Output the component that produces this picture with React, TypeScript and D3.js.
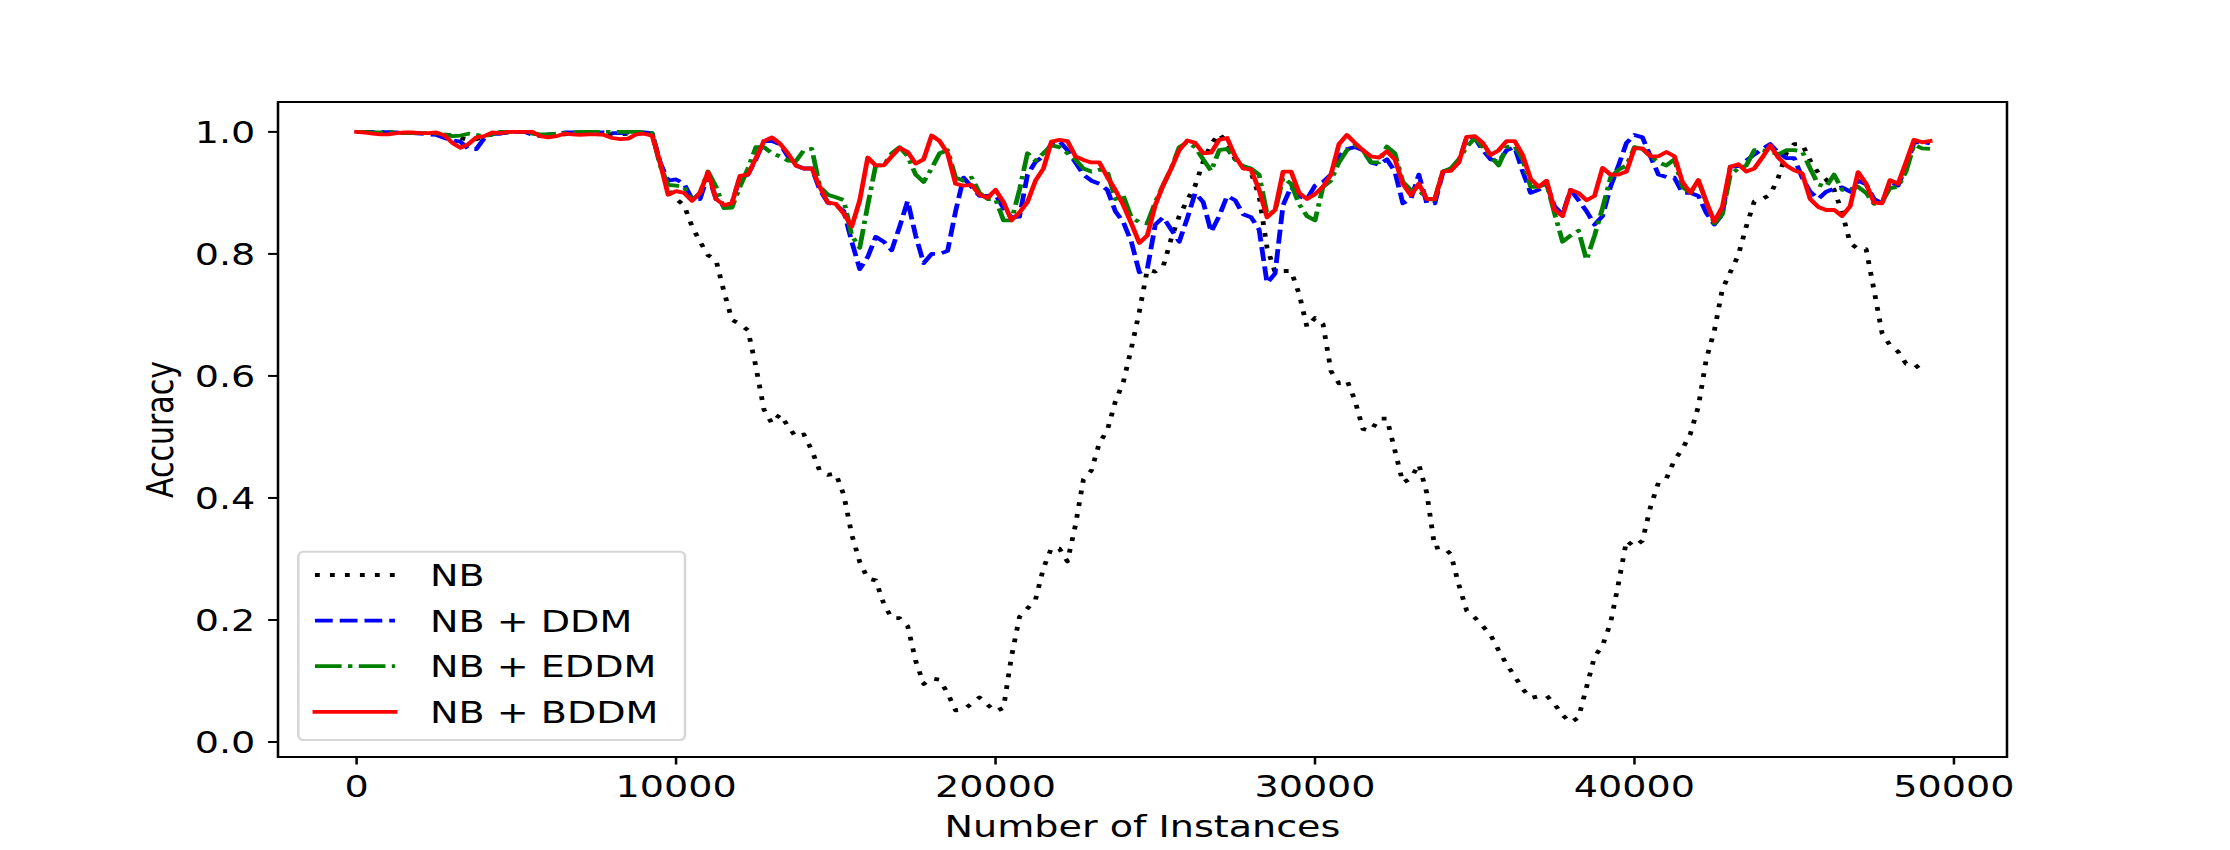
import React from 'react';
import * as d3 from 'd3';

const instances = [
  0, 250, 500, 750, 1000, 1250, 1500, 1750, 2000, 2250, 2500, 2750, 3000, 3250, 3500, 3750, 4000, 4250, 4500, 4750,
  5000, 5250, 5500, 5750, 6000, 6250, 6500, 6750, 7000, 7250, 7500, 7750, 8000, 8250, 8500, 8750, 9000, 9250, 9500, 9750,
  10000, 10250, 10500, 10750, 11000, 11250, 11500, 11750, 12000, 12250, 12500, 12750, 13000, 13250, 13500, 13750, 14000, 14250, 14500, 14750,
  15000, 15250, 15500, 15750, 16000, 16250, 16500, 16750, 17000, 17250, 17500, 17750, 18000, 18250, 18500, 18750, 19000, 19250, 19500, 19750,
  20000, 20250, 20500, 20750, 21000, 21250, 21500, 21750, 22000, 22250, 22500, 22750, 23000, 23250, 23500, 23750, 24000, 24250, 24500, 24750,
  25000, 25250, 25500, 25750, 26000, 26250, 26500, 26750, 27000, 27250, 27500, 27750, 28000, 28250, 28500, 28750, 29000, 29250, 29500, 29750,
  30000, 30250, 30500, 30750, 31000, 31250, 31500, 31750, 32000, 32250, 32500, 32750, 33000, 33250, 33500, 33750, 34000, 34250, 34500, 34750,
  35000, 35250, 35500, 35750, 36000, 36250, 36500, 36750, 37000, 37250, 37500, 37750, 38000, 38250, 38500, 38750, 39000, 39250, 39500, 39750,
  40000, 40250, 40500, 40750, 41000, 41250, 41500, 41750, 42000, 42250, 42500, 42750, 43000, 43250, 43500, 43750, 44000, 44250, 44500, 44750,
  45000, 45250, 45500, 45750, 46000, 46250, 46500, 46750, 47000, 47250, 47500, 47750, 48000, 48250, 48500, 48750, 49000, 49250,
];

const accNB = [
  1.0, 1.0, 0.999, 0.998, 0.999, 0.999, 0.998, 0.998, 0.998, 0.997, 0.997, 0.996, 0.994, 0.99, 0.987, 0.988, 0.993, 0.996, 0.998, 0.999,
  1.0, 1.0, 0.998, 0.995, 0.993, 0.994, 0.996, 0.997, 0.998, 0.998, 0.998, 0.997, 0.996, 0.996, 0.997, 0.998, 0.999, 0.997,
  0.95, 0.905, 0.89, 0.88, 0.845, 0.82, 0.798, 0.79, 0.738, 0.692,
  0.685, 0.675, 0.615, 0.545, 0.522, 0.537, 0.518, 0.5, 0.504, 0.478,
  0.444, 0.438, 0.44, 0.405, 0.34, 0.295, 0.268, 0.265, 0.227, 0.203,
  0.203, 0.19, 0.133, 0.095, 0.104, 0.102, 0.08, 0.052, 0.053, 0.063,
  0.073, 0.061, 0.05, 0.056, 0.14, 0.205, 0.219, 0.233, 0.285, 0.318,
  0.317, 0.296, 0.355, 0.43, 0.445, 0.49, 0.511, 0.558, 0.59, 0.645,
  0.705, 0.774, 0.771, 0.78, 0.825, 0.862, 0.888, 0.912, 0.951, 0.98,
  0.997, 0.983, 0.955, 0.942, 0.933, 0.895, 0.81, 0.77, 0.772, 0.772,
  0.735, 0.68, 0.695, 0.685, 0.608, 0.588, 0.593, 0.56, 0.513, 0.51,
  0.53, 0.53, 0.478, 0.425, 0.432, 0.455, 0.408, 0.318, 0.32, 0.308,
  0.258, 0.215, 0.204, 0.19, 0.175, 0.15, 0.127, 0.108, 0.087, 0.072,
  0.075, 0.076, 0.062, 0.044, 0.032, 0.04, 0.09, 0.14, 0.158, 0.195,
  0.26, 0.33, 0.32, 0.33, 0.385, 0.425, 0.432, 0.462, 0.48, 0.505,
  0.55, 0.628, 0.674, 0.742, 0.77, 0.798, 0.845, 0.886, 0.89, 0.897,
  0.925, 0.965, 0.98, 0.98, 0.953, 0.933, 0.922, 0.905, 0.868, 0.818,
  0.808, 0.808, 0.74, 0.67, 0.65, 0.64, 0.62, 0.62, 0.608,
];

const accDDM = [
  1.0, 1.0, 1.0, 1.0, 0.999, 0.999, 0.998, 0.998, 0.997, 0.996,
  0.995, 0.99, 0.986, 0.984, 0.972, 0.972, 0.99, 0.997, 0.997, 1.0,
  1.0, 1.0, 0.995, 0.993, 0.996, 0.997, 0.999, 0.999, 0.999, 0.999,
  0.999, 0.999, 0.998, 0.998, 0.999, 0.999, 0.999, 0.998,
  0.95, 0.92, 0.922, 0.915, 0.89, 0.89, 0.93, 0.89, 0.878, 0.883,
  0.925, 0.93, 0.955, 0.985, 0.985, 0.98, 0.96, 0.945, 0.94, 0.94,
  0.905, 0.884, 0.88, 0.87, 0.82, 0.775, 0.795, 0.828, 0.82, 0.806,
  0.845, 0.887, 0.83, 0.785, 0.8, 0.8, 0.805, 0.87, 0.925, 0.91,
  0.895, 0.895, 0.897, 0.875, 0.86, 0.861, 0.93, 0.951, 0.96, 0.981,
  0.985, 0.97, 0.95, 0.93, 0.92, 0.915, 0.905, 0.87, 0.852, 0.82,
  0.77, 0.775, 0.848, 0.86, 0.84, 0.82, 0.858, 0.9, 0.885, 0.836,
  0.862, 0.895, 0.888, 0.865, 0.86, 0.84, 0.752, 0.768, 0.88, 0.91,
  0.895, 0.89, 0.912, 0.918, 0.93, 0.96, 0.972, 0.975, 0.97, 0.95,
  0.946, 0.955, 0.935, 0.883, 0.89, 0.93, 0.883, 0.883, 0.933, 0.94,
  0.95, 0.992, 0.99, 0.97, 0.955, 0.951, 0.97, 0.975, 0.935, 0.9,
  0.905, 0.914, 0.878, 0.865, 0.905, 0.888, 0.87, 0.848, 0.862, 0.91,
  0.945, 0.982, 0.995, 0.991, 0.96, 0.93, 0.926, 0.925, 0.9, 0.9,
  0.895, 0.867, 0.848, 0.865, 0.943, 0.944, 0.953, 0.963, 0.972, 0.98,
  0.966, 0.957, 0.957, 0.925, 0.902, 0.89, 0.902, 0.907, 0.909, 0.902,
  0.92, 0.914, 0.89, 0.883, 0.918, 0.912, 0.943, 0.982, 0.984, 0.981,
];

const accEDDM = [
  1.0, 1.0, 0.999, 0.999, 1.0, 0.999, 0.998, 0.998, 0.998, 0.998,
  0.997, 0.996, 0.993, 0.994, 0.997, 0.995, 0.993, 0.996, 1.0, 1.0,
  1.0, 1.0, 0.997, 0.996, 0.996, 0.997, 0.998, 0.999, 1.0, 1.0,
  1.0, 1.0, 1.0, 1.0, 1.0, 1.0, 0.999, 0.998,
  0.945, 0.913, 0.912, 0.91, 0.888, 0.9, 0.935, 0.91, 0.875, 0.876,
  0.91, 0.94, 0.975, 0.975, 0.965, 0.96, 0.953, 0.952, 0.97, 0.972,
  0.91, 0.897, 0.893, 0.888, 0.83, 0.81, 0.88, 0.945, 0.945, 0.965,
  0.975, 0.96, 0.93, 0.918, 0.94, 0.965, 0.97, 0.925, 0.92, 0.925,
  0.9, 0.89, 0.89, 0.855, 0.855, 0.905, 0.965, 0.953, 0.965, 0.978,
  0.975, 0.965, 0.955, 0.94, 0.935, 0.938, 0.935, 0.89, 0.895, 0.86,
  0.852, 0.85, 0.885, 0.913, 0.94, 0.975, 0.983, 0.975, 0.955, 0.936,
  0.97, 0.972, 0.955, 0.944, 0.94, 0.93, 0.865, 0.87, 0.925, 0.915,
  0.882, 0.862, 0.855, 0.91, 0.92, 0.95, 0.97, 0.978, 0.97, 0.95,
  0.95, 0.976, 0.965, 0.918, 0.905, 0.905, 0.89, 0.889, 0.935, 0.94,
  0.955, 0.975, 0.99, 0.975, 0.96, 0.945, 0.975, 0.977, 0.955, 0.91,
  0.91, 0.915, 0.866, 0.82, 0.83, 0.838, 0.79, 0.83, 0.875, 0.925,
  0.938, 0.945, 0.975, 0.972, 0.96, 0.95, 0.945, 0.955, 0.91, 0.9,
  0.92, 0.885, 0.85, 0.865, 0.93, 0.94, 0.945, 0.97, 0.97, 0.968,
  0.963, 0.97, 0.97, 0.968, 0.94, 0.914, 0.91, 0.93, 0.905, 0.905,
  0.91, 0.9, 0.882, 0.885, 0.908, 0.91, 0.935, 0.979, 0.973, 0.972,
];

const accBDDM = [
  1.0, 0.999, 0.997, 0.996, 0.996, 0.998, 0.999, 0.999, 0.998, 0.998,
  0.999, 0.994, 0.982, 0.974, 0.98, 0.991, 0.993, 0.999, 0.998, 1.0,
  1.0, 1.0, 1.0, 0.993, 0.991, 0.993, 0.997, 0.996, 0.995, 0.996,
  0.996, 0.995, 0.99, 0.988, 0.989, 0.996, 0.997, 0.994,
  0.95, 0.897, 0.903, 0.9, 0.887, 0.9, 0.934, 0.89, 0.88, 0.883,
  0.928, 0.93, 0.957, 0.985, 0.991, 0.981, 0.965, 0.945, 0.94, 0.94,
  0.91, 0.884, 0.882, 0.866, 0.845, 0.888, 0.958, 0.945, 0.945, 0.96,
  0.974, 0.967, 0.948, 0.955, 0.994, 0.985, 0.965, 0.915, 0.912, 0.913,
  0.897, 0.892, 0.905, 0.885, 0.855, 0.868, 0.885, 0.92, 0.94, 0.984,
  0.987, 0.985, 0.96, 0.954, 0.95, 0.95, 0.926, 0.905, 0.88, 0.85,
  0.818, 0.83, 0.88, 0.913, 0.94, 0.97, 0.986, 0.982, 0.965, 0.966,
  0.987, 0.99, 0.96, 0.94, 0.938, 0.905, 0.86, 0.872, 0.935, 0.935,
  0.9, 0.89, 0.898, 0.91, 0.93, 0.98, 0.995, 0.982, 0.97, 0.96,
  0.958, 0.968, 0.955, 0.915, 0.896, 0.915, 0.89, 0.89, 0.935, 0.936,
  0.95, 0.992, 0.993, 0.982, 0.962, 0.97, 0.985, 0.985, 0.962, 0.923,
  0.91, 0.92, 0.872, 0.862, 0.905, 0.9, 0.888, 0.895, 0.941, 0.93,
  0.93, 0.935, 0.973, 0.973, 0.96, 0.96, 0.967, 0.96, 0.918, 0.9,
  0.921, 0.885, 0.853, 0.877, 0.943, 0.947, 0.935, 0.94, 0.958, 0.978,
  0.958, 0.945, 0.937, 0.932, 0.89, 0.877, 0.872, 0.872, 0.862, 0.878,
  0.934, 0.915, 0.884, 0.883, 0.921, 0.915, 0.95, 0.987, 0.983, 0.985,
];

const xTicks = [0, 10000, 20000, 30000, 40000, 50000];
const yTicks = [0.0, 0.2, 0.4, 0.6, 0.8, 1.0];
const seriesNames = ['NB', 'NB + DDM', 'NB + EDDM', 'NB + BDDM'];
const seriesColors = ['#000000', '#0000ff', '#008000', '#ff0000'];
const xLabel = 'Number of Instances';
const yLabel = 'Accuracy';

export default function App() {
  const W = 2230;
  const H = 850;
  const S = 1.27; // horizontal stretch of the original raster
  const IW = W / S;
  const L = 218.9, R = 1580.3, T = 102, B = 757;
  const font = "'DejaVu Sans', 'Liberation Sans', sans-serif";
  const fs = 30;
  const lw = 3.8;

  const x = d3.scaleLinear().domain([-2460, 51660]).range([L, R]);
  const y = d3.scaleLinear().domain([-0.0246, 1.049]).range([B, T]);

  const dashes = ['3.8,8', '14,5.5', '21,5,3.5,5', ''];
  const seriesValues = [accNB, accDDM, accEDDM, accBDDM];

  const gen = d3
    .line<[number, number]>()
    .x((d) => x(d[0]))
    .y((d) => y(d[1]));

  const paths = seriesValues.map((vals) => {
    const n = Math.min(instances.length, vals.length);
    const pts: [number, number][] = [];
    for (let i = 0; i < n; i++) pts.push([instances[i], vals[i]]);
    return gen(pts) || '';
  });

  const legL = 234.9, legR = 539.4, legT = 551.7, legB = 740;
  const rowY = (k: number) => 575 + 45.6 * k;

  return (
    <svg
      width={W}
      height={H}
      viewBox={`0 0 ${IW} ${H}`}
      preserveAspectRatio="none"
      style={{ position: 'absolute', left: 0, top: 0, background: '#ffffff' }}
    >
      <rect x={0} y={0} width={IW} height={H} fill="#ffffff" />
      <defs>
        <clipPath id="plotclip">
          <rect x={L} y={T} width={R - L} height={B - T} />
        </clipPath>
      </defs>
      <g clipPath="url(#plotclip)">
        {paths.map((d, i) => (
          <path
            key={i}
            d={d}
            fill="none"
            stroke={seriesColors[i]}
            strokeWidth={lw}
            strokeDasharray={dashes[i] || undefined}
            strokeLinejoin="round"
            strokeLinecap={i === 3 ? 'square' : 'butt'}
          />
        ))}
      </g>
      <rect x={L} y={T} width={R - L} height={B - T} fill="none" stroke="#000" strokeWidth={2} />
      {xTicks.map((t) => (
        <g key={'x' + t}>
          <line x1={x(t)} x2={x(t)} y1={B} y2={B + 7.5} stroke="#000" strokeWidth={2} />
          <text x={x(t)} y={797} textAnchor="middle" fontFamily={font} fontSize={fs} fill="#000">
            {String(t)}
          </text>
        </g>
      ))}
      {yTicks.map((t) => (
        <g key={'y' + t}>
          <line x1={L - 7.8} x2={L} y1={y(t)} y2={y(t)} stroke="#000" strokeWidth={2} />
          <text x={201} y={y(t) + 11} textAnchor="end" fontFamily={font} fontSize={fs} fill="#000">
            {t.toFixed(1)}
          </text>
        </g>
      ))}
      <text x={(L + R) / 2} y={837} textAnchor="middle" fontFamily={font} fontSize={fs} fill="#000">
        {xLabel}
      </text>
      <text
        transform={`translate(136, ${(T + B) / 2}) rotate(-90)`}
        textAnchor="middle"
        fontFamily={font}
        fontSize={fs}
        fill="#000"
      >
        {yLabel}
      </text>
      <rect
        x={legL}
        y={legT}
        width={legR - legL}
        height={legB - legT}
        rx={4}
        ry={5}
        fill="#ffffff"
        fillOpacity={0.8}
        stroke="#d6d6d6"
        strokeWidth={2}
      />
      {seriesNames.map((name, k) => (
        <g key={name}>
          <line
            x1={248}
            x2={311}
            y1={rowY(k)}
            y2={rowY(k)}
            stroke={seriesColors[k]}
            strokeWidth={lw}
            strokeDasharray={dashes[k] || undefined}
            strokeLinecap={k === 3 ? 'square' : 'butt'}
          />
          <text x={338.6} y={rowY(k) + 11} fontFamily={font} fontSize={fs} fill="#000">
            {name}
          </text>
        </g>
      ))}
    </svg>
  );
}
